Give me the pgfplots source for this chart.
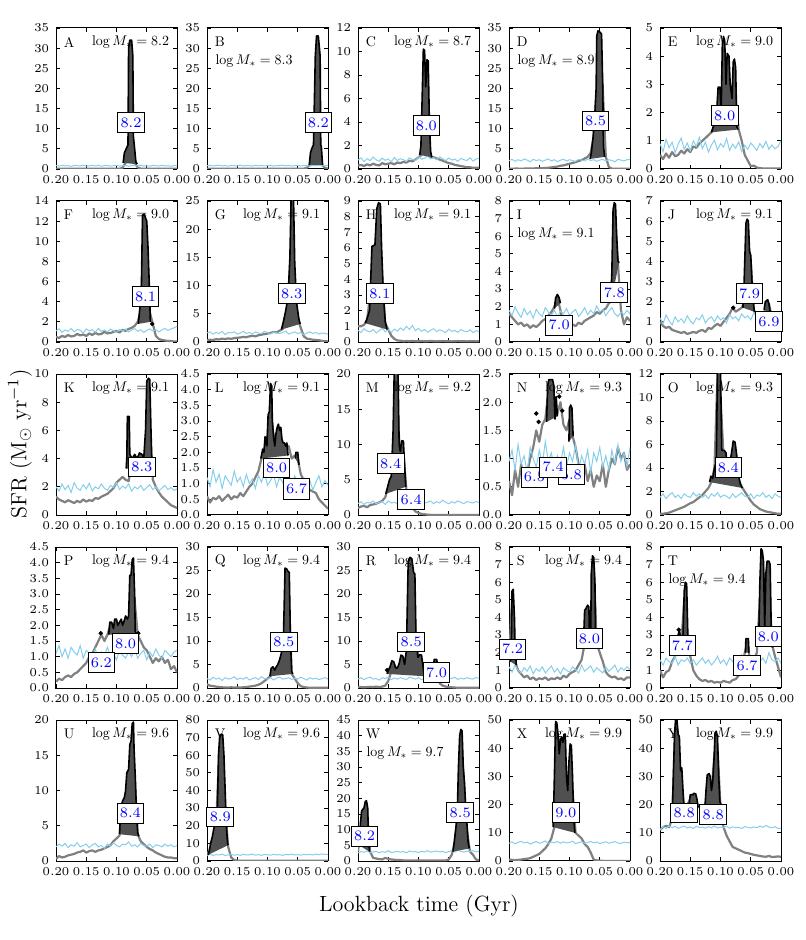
\documentclass[border=0pt]{standalone}
\usepackage{pgfplots}
\pgfplotsset{compat=1.18}
\usepackage{pgfplotstable}
\usepgfplotslibrary{groupplots}
\definecolor{skyb}{RGB}{135,206,235}
\definecolor{grl}{RGB}{128,128,128}
\definecolor{brst}{RGB}{80,80,80}
\pgfplotsset{
 bl/.style={skyb, line width=0.5pt},
 gr/.style={grl, line width=1.1pt, line join=round},
 dots/.style={only marks, mark=*, mark size=0.9pt, black},
 dec/.style={yticklabel style={/pgf/number format/fixed,/pgf/number format/fixed zerofill,/pgf/number format/precision=1}},
}
\tikzset{lab/.style={draw=black, fill=white, text=blue, line width=0.5pt, inner xsep=1.4pt, inner ysep=2.5pt, font=\fontsize{7.2}{8}\selectfont},
 let/.style={font=\fontsize{10}{12}\selectfont, scale=0.7, anchor=west},
 mst/.style={font=\fontsize{10}{12}\selectfont, scale=0.7}}
\newcommand{\burst}[1]{\addplot[fill=brst, draw=none] coordinates {#1};\addplot[black, line width=0.8pt, line join=round] coordinates {#1};}
\newcommand{\base}[1]{\addplot[gr] table[x=x,y=g]{#1};\addplot[bl] table[x=x,y=b]{#1};}
\newcommand{\lab}[3]{\node[lab] at (axis cs:#1,#2) {#3};}
\newcommand{\ttl}[2]{\node[let] at (axis description cs:0.025,0.9) {#1};\node[mst,anchor=east] at (axis description cs:0.975,0.9) {$\log M_* = #2$};}
\newcommand{\ttll}[2]{\node[let] at (axis description cs:0.025,0.9) {#1};\node[mst,anchor=west] at (axis description cs:0.03,0.765) {$\log M_* = #2$};}

\pgfplotstableread{
x b g
0.200 0.85 0.05
0.195 0.72 0.05
0.190 0.92 0.05
0.185 0.77 0.05
0.180 0.82 0.05
0.175 0.66 0.05
0.170 0.89 0.05
0.165 0.83 0.05
0.160 0.74 0.05
0.155 0.94 0.05
0.150 0.70 0.05
0.145 0.80 0.05
0.140 0.88 0.05
0.135 0.75 0.05
0.130 0.91 0.05
0.125 0.68 0.05
0.120 0.83 0.05
0.115 0.86 0.05
0.110 0.71 0.05
0.105 0.82 0.05
0.100 0.92 0.05
0.095 0.73 0.05
0.090 0.79 0.3
0.085 0.89 1.5
0.080 0.67 5
0.075 0.84 5
0.070 0.88 1.5
0.065 0.77 0.4
0.060 0.94 0.1
0.055 0.74 0.05
0.050 0.80 0.05
0.045 0.70 0.05
0.040 0.89 0.05
0.035 0.83 0.05
0.030 0.73 0.05
0.025 0.92 0.05
0.020 0.76 0.05
0.015 0.81 0.05
0.010 0.68 0.05
0.005 0.86 0.05
0.000 0.83 0.05
}\tA
\pgfplotstableread{
x b g
0.200 0.80 0.05
0.195 0.92 0.05
0.190 0.73 0.05
0.185 0.88 0.05
0.180 0.95 0.05
0.175 0.76 0.05
0.170 0.84 0.05
0.165 0.70 0.05
0.160 0.90 0.05
0.155 0.83 0.05
0.150 0.78 0.05
0.145 0.96 0.05
0.140 0.74 0.05
0.135 0.86 0.05
0.130 0.81 0.05
0.125 0.72 0.05
0.120 0.93 0.05
0.115 0.79 0.05
0.110 0.87 0.05
0.105 0.75 0.05
0.100 0.84 0.05
0.095 0.91 0.05
0.090 0.71 0.05
0.085 0.85 0.05
0.080 0.80 0.05
0.075 0.94 0.05
0.070 0.77 0.05
0.065 0.88 0.05
0.060 0.73 0.05
0.055 0.83 0.05
0.050 0.90 0.05
0.045 0.76 0.05
0.040 0.86 0.05
0.035 0.81 0.3
0.030 0.72 1.0
0.025 0.92 5
0.020 0.79 5
0.015 0.95 5
0.010 0.84 1.0
0.005 0.78 0.3
0.000 0.88 0.1
}\tB
\pgfplotstableread{
x b g
0.200 0.75 0.3
0.195 0.95 0.35
0.190 0.62 0.25
0.185 0.88 0.4
0.180 0.70 0.3
0.175 1.02 0.45
0.170 0.78 0.35
0.165 0.66 0.3
0.160 0.92 0.5
0.155 0.74 0.4
0.150 0.85 0.45
0.145 0.60 0.5
0.140 0.98 0.4
0.135 0.72 0.55
0.130 0.87 0.5
0.125 0.79 0.6
0.120 0.64 0.55
0.115 0.95 0.7
0.110 0.81 0.65
0.105 0.73 0.8
0.100 1.05 1.0
0.095 0.84 1.2
0.090 0.92 1.5
0.085 1.10 1.2
0.080 0.86 1.0
0.075 0.97 1.0
0.070 0.78 0.9
0.065 1.02 0.8
0.060 0.88 0.7
0.055 0.70 0.6
0.050 0.93 0.5
0.045 0.76 0.45
0.040 0.85 0.35
0.035 0.65 0.3
0.030 0.90 0.25
0.025 0.79 0.2
0.020 0.72 0.15
0.015 0.95 0.15
0.010 0.68 0.1
0.005 0.84 0.1
0.000 0.90 0.1
}\tC
\pgfplotstableread{
x b g
0.200 2.1 0.1
0.195 2.4 0.05
0.190 1.9 0.1
0.185 2.3 0.1
0.180 2.0 0.05
0.175 2.5 0.1
0.170 2.2 0.15
0.165 1.8 0.1
0.160 2.4 0.1
0.155 2.1 0.2
0.150 2.3 0.15
0.145 1.9 0.2
0.140 2.2 0.25
0.135 2.5 0.3
0.130 2.0 0.4
0.125 2.3 0.5
0.120 1.8 0.6
0.115 2.2 0.8
0.110 2.4 0.9
0.105 2.0 1.1
0.100 2.3 1.3
0.095 2.1 1.5
0.090 1.9 1.7
0.085 2.4 2.0
0.080 2.2 2.2
0.075 2.0 2.6
0.070 2.5 3.0
0.065 2.1 4
0.060 2.3 8
0.055 1.9 20
0.050 2.2 30
0.045 2.4 20
0.040 2.0 3.0
0.035 2.3 0.5
0.030 2.1 0.1
0.025 1.8 0.05
0.020 2.4 0.05
0.015 2.2 0.05
0.010 2.0 0.05
0.005 2.3 0.05
0.000 2.4 0.05
}\tD
\pgfplotstableread{
x b g
0.200 0.90 0.5
0.195 0.62 0.35
0.190 1.05 0.55
0.185 0.75 0.4
0.180 0.95 0.6
0.175 0.58 0.45
0.170 0.88 0.5
0.165 1.10 0.65
0.160 0.70 0.55
0.155 0.92 0.7
0.150 0.65 0.6
0.145 1.00 0.8
0.140 0.80 0.75
0.135 1.12 0.9
0.130 0.72 1.0
0.125 0.95 1.1
0.120 0.60 1.2
0.115 0.85 1.3
0.110 1.02 1.5
0.105 0.68 2.0
0.100 0.90 2.0
0.095 0.78 2.0
0.090 1.08 2.5
0.085 0.66 2.5
0.080 0.88 2.4
0.075 0.74 2.5
0.070 0.96 1.4
0.065 0.62 1.0
0.060 0.84 0.5
0.055 0.70 0.3
0.050 0.92 0.1
0.045 0.80 0.12
0.040 0.66 0.05
0.035 0.90 0.03
0.030 0.75 0.02
0.025 0.98 0.02
0.020 0.70 0.02
0.015 0.85 0.02
0.010 0.72 0.02
0.005 0.80 0.02
0.000 1.00 0.02
}\tE
\pgfplotstableread{
x b g
0.200 1.10 0.5
0.195 1.30 0.4
0.190 0.95 0.6
0.185 1.20 0.5
0.180 1.05 0.7
0.175 1.35 0.55
0.170 1.00 0.6
0.165 1.25 0.8
0.160 1.15 0.65
0.155 0.90 0.75
0.150 1.30 0.6
0.145 1.10 0.85
0.140 1.22 0.7
0.135 0.98 0.9
0.130 1.35 0.75
0.125 1.05 0.8
0.120 1.20 1.0
0.115 1.00 0.85
0.110 1.28 0.9
0.105 1.12 1.0
0.100 0.95 1.1
0.095 1.25 0.95
0.090 1.08 1.2
0.085 1.30 1.1
0.080 1.00 1.3
0.075 1.18 1.4
0.070 1.35 1.6
0.065 1.05 2.0
0.060 1.22 3
0.055 0.95 10
0.050 1.15 10
0.045 1.30 3
0.040 1.10 1.8
0.035 1.25 0.6
0.030 1.00 0.3
0.025 1.20 0.2
0.020 1.35 0.15
0.015 1.15 0.1
0.010 1.30 0.1
0.005 1.40 0.05
0.000 1.55 0.05
}\tF
\pgfplotstableread{
x b g
0.200 1.6 0.3
0.195 1.8 0.4
0.190 1.4 0.35
0.185 1.7 0.5
0.180 1.5 0.45
0.175 1.9 0.6
0.170 1.3 0.5
0.165 1.7 0.65
0.160 1.6 0.55
0.155 1.8 0.7
0.150 1.4 0.75
0.145 1.6 0.8
0.140 1.9 0.9
0.135 1.5 0.85
0.130 1.7 1.0
0.125 1.4 1.1
0.120 1.8 1.0
0.115 1.6 1.2
0.110 1.5 1.3
0.105 1.9 1.4
0.100 1.7 1.5
0.095 1.4 1.6
0.090 1.8 1.8
0.085 1.6 1.7
0.080 1.5 2.0
0.075 1.7 2.3
0.070 1.9 4
0.065 1.4 8
0.060 1.6 20
0.055 1.8 10
0.050 1.5 4
0.045 1.7 2.5
0.040 1.3 1.0
0.035 1.6 0.6
0.030 1.8 0.5
0.025 1.5 0.4
0.020 1.7 0.35
0.015 1.4 0.3
0.010 1.6 0.2
0.005 1.5 0.15
0.000 1.4 0.1
}\tG
\pgfplotstableread{
x b g
0.200 0.75 1.0
0.195 0.60 1.0
0.190 0.85 1.1
0.185 0.70 1.4
0.180 0.65 3
0.175 0.80 5
0.170 0.58 6
0.165 0.72 8
0.160 0.88 4
0.155 0.66 1.2
0.150 0.78 0.8
0.145 0.62 0.4
0.140 0.82 0.2
0.135 0.70 0.1
0.130 0.90 0.08
0.125 0.75 0.05
0.120 1.00 0.06
0.115 0.80 0.05
0.110 1.05 0.07
0.105 0.72 0.05
0.100 0.88 0.05
0.095 0.68 0.06
0.090 0.80 0.05
0.085 0.62 0.05
0.080 0.75 0.07
0.075 0.85 0.05
0.070 0.66 0.04
0.065 0.78 0.05
0.060 0.70 0.06
0.055 0.60 0.05
0.050 0.82 0.05
0.045 0.68 0.04
0.040 0.74 0.05
0.035 0.62 0.06
0.030 0.80 0.05
0.025 0.70 0.05
0.020 0.65 0.04
0.015 0.78 0.05
0.010 0.60 0.05
0.005 0.72 0.04
0.000 0.66 0.05
}\tH
\pgfplotstableread{
x b g
0.200 1.80 1.6
0.195 1.50 1.4
0.190 2.00 1.2
0.185 1.65 1.0
0.180 1.40 1.1
0.175 1.90 0.9
0.170 1.55 1.0
0.165 1.75 0.8
0.160 1.35 0.95
0.155 1.85 0.85
0.150 1.60 1.0
0.145 1.45 1.2
0.140 1.95 1.3
0.135 1.70 1.5
0.130 1.50 1.7
0.125 1.80 2.0
0.120 1.40 2.5
0.115 1.75 1.8
0.110 1.60 1.0
0.105 1.90 0.6
0.100 1.50 0.8
0.095 1.70 1.0
0.090 1.85 0.9
0.085 1.45 1.1
0.080 1.65 1.0
0.075 1.95 1.2
0.070 1.55 1.3
0.065 1.80 1.4
0.060 1.60 1.5
0.055 2.05 1.7
0.050 1.70 1.6
0.045 1.85 1.8
0.040 1.50 1.9
0.035 1.75 2.2
0.030 1.95 3
0.025 1.60 7
0.020 1.45 4.5
0.015 1.70 1.8
0.010 1.55 1.0
0.005 1.80 1.4
0.000 1.60 1.2
}\tI
\pgfplotstableread{
x b g
0.200 1.20 1.0
0.195 0.90 0.8
0.190 1.35 0.7
0.185 1.05 0.75
0.180 0.85 0.6
0.175 1.25 0.55
0.170 1.00 0.5
0.165 1.15 0.45
0.160 0.95 0.5
0.155 1.30 0.4
0.150 1.05 0.45
0.145 0.90 0.5
0.140 1.20 0.45
0.135 1.10 0.55
0.130 1.35 0.6
0.125 0.95 0.5
0.120 1.15 0.7
0.115 1.25 0.65
0.110 1.00 0.8
0.105 1.30 0.9
0.100 1.10 0.8
0.095 1.20 1.0
0.090 0.95 1.2
0.085 1.35 1.4
0.080 1.15 1.7
0.075 1.25 1.5
0.070 1.05 1.6
0.065 1.40 1.7
0.060 1.20 2.0
0.055 1.30 5
0.050 1.10 4.0
0.045 1.45 1.6
0.040 1.25 1.3
0.035 1.15 1.0
0.030 1.35 1.2
0.025 1.20 1.8
0.020 1.40 1.9
0.015 1.25 1.2
0.010 1.10 1.0
0.005 1.30 1.1
0.000 1.20 1.0
}\tJ
\pgfplotstableread{
x b g
0.200 2.0 1.3
0.195 1.7 1.1
0.190 2.2 1.0
0.185 1.8 0.9
0.180 2.1 1.05
0.175 1.6 0.95
0.170 2.3 0.85
0.165 1.9 1.0
0.160 1.75 0.9
0.155 2.15 1.1
0.150 1.85 0.95
0.145 2.25 1.05
0.140 1.7 1.0
0.135 2.0 1.2
0.130 1.85 1.15
0.125 2.2 1.3
0.120 1.9 1.4
0.115 1.75 1.5
0.110 2.1 1.7
0.105 1.95 1.9
0.100 2.3 2.3
0.095 1.8 2.5
0.090 2.05 2.7
0.085 1.9 2.5
0.080 2.2 2.4
0.075 1.7 3.5
0.070 2.0 3.5
0.065 1.85 3.5
0.060 2.1 3.5
0.055 1.75 3.5
0.050 1.95 5
0.045 2.15 6
0.040 1.8 2.5
0.035 2.0 2.0
0.030 1.7 1.6
0.025 1.9 1.3
0.020 2.1 1.1
0.015 1.8 0.9
0.010 1.95 0.7
0.005 1.75 0.6
0.000 1.85 0.5
}\tK
\pgfplotstableread{
x b g
0.200 1.20 0.6
0.195 0.90 0.4
0.190 1.45 0.55
0.185 1.05 0.5
0.180 1.30 0.6
0.175 0.85 0.45
0.170 1.25 0.55
0.165 1.10 0.65
0.160 0.95 0.5
0.155 1.40 0.6
0.150 1.05 0.55
0.145 1.20 0.7
0.140 0.90 0.6
0.135 1.30 0.75
0.130 1.00 0.9
0.125 1.15 1.0
0.120 0.85 1.2
0.115 1.25 1.4
0.110 1.05 1.8
0.105 1.35 2.0
0.100 0.95 2.5
0.095 1.10 3.5
0.090 1.30 2.5
0.085 0.90 2.6
0.080 1.20 2.5
0.075 1.05 2.2
0.070 0.80 2.1
0.065 1.15 2.2
0.060 0.95 1.8
0.055 1.25 1.9
0.050 1.00 1.8
0.045 0.85 1.3
0.040 1.20 1.1
0.035 0.95 0.9
0.030 1.10 0.8
0.025 0.80 0.75
0.020 1.05 0.7
0.015 1.25 0.5
0.010 0.90 0.4
0.005 1.10 0.3
0.000 0.95 0.2
}\tL
\pgfplotstableread{
x b g
0.200 1.6 1.0
0.195 1.9 1.2
0.190 1.5 1.3
0.185 1.8 1.1
0.180 1.7 1.4
0.175 2.0 1.5
0.170 1.6 1.6
0.165 1.8 1.8
0.160 1.9 2.0
0.155 1.5 2.5
0.150 2.0 4
0.145 1.7 5
0.140 1.8 10
0.135 1.6 15
0.130 1.9 8
0.125 1.7 9
0.120 2.1 3.5
0.115 1.6 2
0.110 1.8 1.0
0.105 1.9 0.5
0.100 1.6 0.3
0.095 2.0 0.15
0.090 1.7 0.1
0.085 1.8 0.05
0.080 2.0 0.02
0.075 1.6 0.02
0.070 1.9 0.02
0.065 1.7 0.02
0.060 2.1 0.02
0.055 1.8 0.02
0.050 1.6 0.02
0.045 1.9 0.02
0.040 1.7 0.02
0.035 2.0 0.02
0.030 1.8 0.02
0.025 1.6 0.02
0.020 1.9 0.02
0.015 1.8 0.02
0.010 1.7 0.02
0.005 1.9 0.02
0.000 1.8 0.02
}\tM
\pgfplotstableread{
x b g
0.200 0.95 0.6
0.195 1.15 0.35
0.190 0.80 0.8
0.185 1.25 0.5
0.180 0.90 0.9
0.175 1.05 0.6
0.170 0.75 0.75
0.165 1.20 1.0
0.160 1.00 1.2
0.155 0.85 1.5
0.150 1.15 1.3
0.145 0.90 1.6
0.140 1.30 1.7
0.135 0.95 2.2
0.130 1.10 2.3
0.125 0.80 1.9
0.120 1.05 1.8
0.115 0.90 2.0
0.110 1.20 1.6
0.105 0.85 1.5
0.100 1.10 1.7
0.095 0.95 1.4
0.090 1.25 1.2
0.085 0.80 0.9
0.080 1.05 0.7
0.075 0.90 0.9
0.070 1.15 0.6
0.065 0.75 0.8
0.060 1.10 0.5
0.055 0.95 0.7
0.050 1.20 0.6
0.045 0.85 0.9
0.040 1.05 0.5
0.035 0.80 0.8
0.030 1.15 1.0
0.025 0.90 0.9
0.020 1.25 1.2
0.015 0.95 1.0
0.010 1.10 1.1
0.005 0.85 0.8
0.000 1.20 0.9
}\tN
\pgfplotstableread{
x b g
0.200 1.5 0.1
0.195 1.8 0.1
0.190 1.4 0.15
0.185 1.7 0.2
0.180 1.9 0.3
0.175 1.5 0.4
0.170 1.7 0.5
0.165 1.4 0.6
0.160 1.8 0.7
0.155 1.6 0.85
0.150 1.5 1.0
0.145 1.9 1.1
0.140 1.6 1.3
0.135 1.8 1.5
0.130 1.5 1.7
0.125 1.7 2.0
0.120 1.4 2.3
0.115 1.8 2.8
0.110 1.6 4
0.105 1.9 12
0.100 1.5 10
0.095 1.7 5
0.090 1.6 4
0.085 1.4 4
0.080 1.8 5
0.075 1.5 5
0.070 1.7 3
0.065 1.9 2.4
0.060 1.6 2.0
0.055 1.5 1.6
0.050 1.8 1.2
0.045 1.4 0.9
0.040 1.7 0.7
0.035 1.6 0.5
0.030 1.9 0.4
0.025 1.5 0.3
0.020 1.7 0.25
0.015 1.4 0.2
0.010 1.8 0.15
0.005 1.6 0.1
0.000 1.5 0.1
}\tO
\pgfplotstableread{
x b g
0.200 1.10 0.2
0.195 1.35 0.3
0.190 1.00 0.25
0.185 1.25 0.35
0.180 0.95 0.4
0.175 1.30 0.35
0.170 1.15 0.45
0.165 1.05 0.5
0.160 1.35 0.6
0.155 0.95 0.7
0.150 1.20 0.8
0.145 1.10 1.0
0.140 1.00 1.1
0.135 1.25 1.3
0.130 0.90 1.5
0.125 1.15 1.7
0.120 1.05 1.5
0.115 1.30 1.7
0.110 1.00 2.0
0.105 1.10 1.8
0.100 0.90 2.1
0.095 1.20 2.0
0.090 1.05 1.9
0.085 0.95 2.2
0.080 1.15 2.1
0.075 1.00 3.5
0.070 1.25 2.8
0.065 0.95 1.7
0.060 1.10 1.5
0.055 1.20 1.3
0.050 0.90 1.2
0.045 1.15 1.0
0.040 1.00 0.8
0.035 1.25 0.95
0.030 1.05 0.85
0.025 0.95 1.0
0.020 1.20 0.8
0.015 1.10 0.9
0.010 1.00 0.6
0.005 1.15 0.7
0.000 1.20 0.5
}\tP
\pgfplotstableread{
x b g
0.200 2.0 0.8
0.195 1.7 0.5
0.190 2.3 0.4
0.185 1.9 0.3
0.180 2.1 0.2
0.175 1.6 0.15
0.170 2.2 0.1
0.165 1.9 0.1
0.160 2.0 0.15
0.155 2.4 0.1
0.150 1.8 0.1
0.145 2.1 0.1
0.140 1.9 0.15
0.135 2.3 0.2
0.130 1.7 0.3
0.125 2.0 0.4
0.120 2.2 0.5
0.115 1.8 0.7
0.110 2.4 1.0
0.105 2.0 1.5
0.100 1.9 2.0
0.095 2.2 2.5
0.090 1.7 3.5
0.085 2.1 4.0
0.080 2.3 5
0.075 1.9 6
0.070 2.0 8
0.065 2.2 20
0.060 1.8 3
0.055 2.1 2.0
0.050 1.9 1.0
0.045 2.3 0.4
0.040 2.0 0.2
0.035 1.7 0.1
0.030 2.2 0.05
0.025 1.9 0.05
0.020 2.1 0.05
0.015 1.8 0.05
0.010 2.0 0.05
0.005 2.2 0.05
0.000 1.9 0.05
}\tQ
\pgfplotstableread{
x b g
0.200 1.9 0.2
0.195 2.2 0.2
0.190 1.8 0.15
0.185 2.1 0.2
0.180 2.3 0.25
0.175 1.9 0.2
0.170 2.0 0.3
0.165 1.7 0.2
0.160 2.2 0.3
0.155 2.0 0.5
0.150 2.3 1.5
0.145 1.8 3.5
0.140 2.1 5
0.135 1.9 3.8
0.130 2.2 4.2
0.125 2.0 5
0.120 1.8 7
0.115 2.3 8
0.110 2.1 22
0.105 1.9 12
0.100 2.2 6
0.095 1.8 6
0.090 2.0 2.5
0.085 2.1 2
0.080 1.9 1.5
0.075 2.3 4.5
0.070 2.0 5.5
0.065 1.8 1.0
0.060 2.2 0.5
0.055 1.9 0.3
0.050 2.1 0.2
0.045 2.0 0.15
0.040 2.3 0.1
0.035 1.8 0.05
0.030 2.1 0.05
0.025 1.9 0.05
0.020 2.2 0.05
0.015 2.0 0.05
0.010 1.9 0.05
0.005 2.2 0.05
0.000 2.1 0.05
}\tR
\pgfplotstableread{
x b g
0.200 1.20 1.5
0.195 0.90 5
0.190 1.30 1.5
0.185 1.00 1.0
0.180 0.85 0.8
0.175 1.15 0.6
0.170 0.95 0.7
0.165 1.25 0.5
0.160 0.80 0.6
0.155 1.10 0.45
0.150 0.95 0.55
0.145 1.20 0.5
0.140 0.85 0.6
0.135 1.05 0.45
0.130 1.25 0.55
0.125 0.90 0.5
0.120 1.10 0.6
0.115 0.80 0.5
0.110 1.15 0.7
0.105 1.00 0.6
0.100 0.90 0.8
0.095 1.20 0.9
0.090 1.05 1.0
0.085 0.85 1.3
0.080 1.30 1.6
0.075 0.95 2.5
0.070 1.10 4.5
0.065 1.25 2.6
0.060 0.90 7
0.055 1.15 2.5
0.050 1.00 2.0
0.045 0.85 1.5
0.040 1.20 0.9
0.035 0.95 0.7
0.030 1.10 0.6
0.025 1.30 0.65
0.020 0.90 0.5
0.015 1.15 0.55
0.010 1.00 0.45
0.005 1.20 0.6
0.000 1.05 0.6
}\tS
\pgfplotstableread{
x b g
0.200 1.6 1.0
0.195 1.3 0.6
0.190 1.7 0.9
0.185 1.5 1.0
0.180 1.4 1.5
0.175 1.8 1.8
0.170 1.3 3.0
0.165 1.6 2.4
0.160 1.5 5
0.155 1.7 3.0
0.150 1.4 1.8
0.145 1.6 1.0
0.140 1.3 0.7
0.135 1.5 0.5
0.130 1.7 0.4
0.125 1.4 0.45
0.120 1.6 0.35
0.115 1.3 0.4
0.110 1.5 0.3
0.105 1.8 0.35
0.100 1.4 0.3
0.095 1.6 0.4
0.090 1.3 0.35
0.085 1.7 0.3
0.080 1.5 0.45
0.075 1.4 0.5
0.070 1.6 0.7
0.065 1.9 0.9
0.060 1.5 2.0
0.055 1.7 2.5
0.050 1.4 1.2
0.045 1.6 1.6
0.040 1.8 2.0
0.035 1.5 5
0.030 1.7 7
0.025 1.4 5
0.020 2.0 6.5
0.015 1.6 2.5
0.010 1.5 1.8
0.005 1.7 1.2
0.000 1.4 0.6
}\tT
\pgfplotstableread{
x b g
0.200 2.0 0.3
0.195 2.4 0.7
0.190 2.1 0.5
0.185 2.5 0.6
0.180 1.9 0.8
0.175 2.3 0.9
0.170 2.1 1.0
0.165 2.6 1.2
0.160 2.0 1.3
0.155 2.2 1.5
0.150 2.4 1.2
0.145 1.9 1.4
0.140 2.3 1.5
0.135 2.5 1.3
0.130 2.0 1.5
0.125 2.2 1.6
0.120 1.8 1.8
0.115 2.4 2.0
0.110 2.1 2.2
0.105 2.6 2.8
0.100 2.2 3.2
0.095 2.0 3.6
0.090 2.4 8
0.085 2.3 9
0.080 2.7 12
0.075 2.1 15
0.070 2.3 12
0.065 2.0 3.8
0.060 2.5 2.8
0.055 2.2 2.4
0.050 2.1 2.0
0.045 2.4 1.7
0.040 1.9 1.5
0.035 2.3 1.2
0.030 2.2 1.0
0.025 2.0 0.8
0.020 2.4 0.6
0.015 2.1 0.5
0.010 2.3 0.5
0.005 2.0 0.4
0.000 2.2 0.4
}\tU
\pgfplotstableread{
x b g
0.200 3.3 3
0.195 3.8 7
0.190 3.2 14
0.185 3.6 20
0.180 3.4 60
0.175 3.9 70
0.170 3.1 30
0.165 3.5 8
0.160 3.7 2
0.155 3.3 0.5
0.150 3.6 0.2
0.145 3.2 0.1
0.140 3.8 0.1
0.135 3.4 0.1
0.130 3.5 0.1
0.125 3.9 0.1
0.120 3.3 0.1
0.115 3.6 0.1
0.110 3.2 0.1
0.105 3.7 0.1
0.100 3.5 0.1
0.095 3.3 0.1
0.090 3.8 0.1
0.085 3.4 0.1
0.080 3.6 0.1
0.075 3.2 0.1
0.070 3.7 0.1
0.065 3.5 0.1
0.060 3.9 0.1
0.055 3.4 0.1
0.050 3.6 0.1
0.045 3.3 0.1
0.040 3.8 0.1
0.035 3.5 0.1
0.030 3.7 0.1
0.025 3.4 0.1
0.020 3.9 0.1
0.015 3.6 0.1
0.010 4.0 0.1
0.005 3.7 0.1
0.000 3.8 0.1
}\tV
\pgfplotstableread{
x b g
0.200 2.6 3
0.195 3.0 12
0.190 2.8 15
0.185 3.2 16
0.180 2.7 3
0.175 2.9 1.0
0.170 3.1 0.8
0.165 2.6 0.6
0.160 3.0 0.5
0.155 2.8 1.0
0.150 3.3 0.7
0.145 2.7 0.5
0.140 2.9 0.4
0.135 3.1 0.3
0.130 2.8 0.3
0.125 3.0 0.2
0.120 2.6 0.2
0.115 3.2 0.2
0.110 2.9 0.2
0.105 3.0 0.2
0.100 2.7 0.2
0.095 3.1 0.2
0.090 2.9 0.2
0.085 3.3 0.2
0.080 2.8 0.2
0.075 3.0 0.2
0.070 3.2 0.2
0.065 2.9 0.2
0.060 3.1 0.2
0.055 2.7 0.2
0.050 3.0 0.5
0.045 3.3 2
0.040 2.9 6
0.035 3.4 15
0.030 3.1 40
0.025 2.8 25
0.020 3.2 10
0.015 3.0 3
0.010 3.3 2
0.005 2.9 0.5
0.000 3.1 0.2
}\tW
\pgfplotstableread{
x b g
0.200 6.3 0.5
0.195 6.8 0.4
0.190 6.1 0.3
0.185 6.6 0.4
0.180 7.0 0.5
0.175 6.4 0.7
0.170 6.7 0.8
0.165 6.0 1.0
0.160 6.5 1.5
0.155 6.9 2.0
0.150 6.3 2.5
0.145 6.6 3.5
0.140 7.1 4.5
0.135 6.2 6
0.130 6.7 8
0.125 6.5 12
0.120 6.9 45
0.115 6.3 40
0.110 6.8 40
0.105 6.4 25
0.100 6.6 33
0.095 7.0 25
0.090 6.2 10
0.085 6.5 9
0.080 6.8 8
0.075 6.3 6
0.070 6.6 5
0.065 6.9 3
0.060 6.4 0.5
0.055 6.7 0.2
0.050 6.2 0.1
0.045 6.5 0.05
0.040 6.8 0.05
0.035 6.3 0.05
0.030 6.6 0.05
0.025 6.9 0.05
0.020 6.4 0.05
0.015 6.2 0.05
0.010 6.7 0.05
0.005 6.5 0.05
0.000 6.6 0.05
}\tX
\pgfplotstableread{
x b g
0.200 11.0 11
0.195 12.2 12
0.190 11.5 12.5
0.185 12.5 12
0.180 11.8 15
0.175 12.3 45
0.170 11.6 42
0.165 12.0 28
0.160 12.4 18
0.155 11.7 20
0.150 12.1 22
0.145 11.5 22
0.140 12.3 21
0.135 11.9 19
0.130 12.0 18
0.125 11.6 20
0.120 12.2 28
0.115 11.8 24
0.110 12.4 38
0.105 11.7 40
0.100 12.0 19
0.095 11.9 12
0.090 12.3 9
0.085 11.6 7
0.080 12.1 5
0.075 11.8 4.5
0.070 12.0 4
0.065 11.5 3.5
0.060 12.2 3
0.055 11.9 2.8
0.050 11.7 2.5
0.045 12.1 2.2
0.040 11.8 2.0
0.035 12.4 1.8
0.030 11.9 1.6
0.025 12.6 1.5
0.020 12.0 1.8
0.015 11.8 1.4
0.010 12.2 1.5
0.005 11.5 1.6
0.000 11.7 1.5
}\tY

\begin{document}
\begin{tikzpicture}
\begin{groupplot}[group style={group size=5 by 5, horizontal sep=15pt, vertical sep=16pt},
 width=60.5pt, height=70.5pt, scale only axis,
 xmin=0, xmax=0.2, x dir=reverse, xtick={0,0.05,0.1,0.15,0.2}, ymin=0,
 scaled ticks=false, tick align=inside, major tick length=2pt, minor tick num=0,
 tick style={black, line width=0.4pt},
 axis line style={line width=0.5pt},
 tick label style={font=\fontsize{5.8}{6}\selectfont},
 xticklabel style={/pgf/number format/fixed,/pgf/number format/fixed zerofill,/pgf/number format/precision=2},
 clip mode=individual]
% A
\nextgroupplot[ymax=35, ytick distance=5]
\coordinate (tl) at (axis description cs:0,1);
\base{\tA}
\burst{(0.089,1.5)(0.087,4)(0.084,5)(0.081,6)(0.080,30)(0.078,32)(0.075,32)(0.073,28)(0.072,8)(0.070,5)(0.068,1.8)(0.066,1.2)}
\lab{0.076}{11.5}{8.2}
\ttl{A}{8.2}
% B
\nextgroupplot[ymax=35, ytick distance=5]
\base{\tB}
\burst{(0.031,1)(0.029,4)(0.027,5)(0.024,6)(0.021,28)(0.019,33)(0.016,33)(0.013,28)(0.012,6)(0.011,5.5)(0.009,1)}
\lab{0.016}{11.5}{8.2}
\ttll{B}{8.3}
% C
\nextgroupplot[ymax=12, ytick distance=2]
\base{\tC}
\burst{(0.098,1.2)(0.096,2)(0.094,6)(0.092,10.2)(0.090,10.1)(0.088,7)(0.086,9.3)(0.084,9.2)(0.082,4)(0.080,1.5)(0.078,1.0)}
\lab{0.087}{3.7}{8.0}
\ttl{C}{8.7}
% D
\nextgroupplot[ymax=35, ytick distance=5]
\base{\tD}
\burst{(0.066,2.5)(0.064,4)(0.061,8)(0.058,14)(0.056,20)(0.055,33)(0.053,34.3)(0.050,34)(0.047,33.5)(0.045,20)(0.044,6)(0.042,3)}
\lab{0.057}{11.9}{8.5}
\ttll{D}{8.9}
% E
\nextgroupplot[ymax=5, ytick distance=1]
\base{\tE}
\burst{(0.115,1.3)(0.112,1.5)(0.107,1.8)(0.104,2.9)(0.101,2.9)(0.099,2.0)(0.097,4.4)(0.095,4.7)(0.093,4.5)(0.091,3.0)(0.089,4.1)(0.086,4.0)(0.084,3.0)(0.081,2.5)(0.079,3.8)(0.077,3.9)(0.075,3.6)(0.073,1.5)(0.071,1.4)}
\lab{0.093}{1.9}{8.0}
\ttl{E}{9.0}
% F
\nextgroupplot[ymax=14, ytick distance=2]
\base{\tF}
\burst{(0.064,1.8)(0.062,3.0)(0.059,5)(0.057,12.6)(0.054,12.7)(0.052,12.3)(0.050,12.0)(0.048,9.5)(0.046,6)(0.044,2.0)}
\addplot[dots] coordinates {(0.041,1.8)};
\lab{0.052}{4.5}{8.1}
\ttl{F}{9.0}
% G
\nextgroupplot[ymax=25, ytick distance=5]
\base{\tG}
\burst{(0.077,2.2)(0.074,3.5)(0.070,5.5)(0.066,8)(0.063,15)(0.061,25.5)(0.057,25.5)(0.055,14)(0.052,7)(0.048,4)(0.046,3.2)}
\lab{0.060}{8.6}{8.3}
\ttl{G}{9.1}
% H
\nextgroupplot[ymax=9, ytick distance=1]
\base{\tH}
\burst{(0.188,1.2)(0.185,1.5)(0.181,2.0)(0.179,4)(0.177,6.1)(0.172,6.2)(0.169,8.5)(0.166,8.9)(0.163,8.8)(0.161,6)(0.158,3)(0.155,1.3)(0.152,0.8)}
\lab{0.164}{3.1}{8.1}
\ttl{H}{9.1}
% I
\nextgroupplot[ymax=8, ytick distance=1]
\base{\tI}
\burst{(0.125,1.9)(0.123,2.5)(0.120,2.7)(0.117,2.5)(0.115,2.2)}
\burst{(0.032,2.2)(0.030,4)(0.028,7.5)(0.026,7.9)(0.024,7.8)(0.022,6)(0.020,4.6)(0.018,4.5)}
\lab{0.117}{0.95}{7.0}
\lab{0.026}{2.8}{7.8}
\ttll{I}{9.1}
% J
\nextgroupplot[ymax=7, ytick distance=1]
\base{\tJ}
\burst{(0.063,1.7)(0.061,3)(0.058,5.9)(0.056,6.1)(0.054,6.0)(0.052,4.5)(0.050,4.3)(0.048,3)(0.046,2.0)(0.044,1.5)}
\burst{(0.028,1.6)(0.026,2.0)(0.022,2.1)(0.020,1.9)(0.018,1.5)(0.016,1.4)}
\addplot[dots] coordinates {(0.079,1.7)};
\lab{0.052}{2.4}{7.9}
\lab{0.020}{1.0}{6.9}
\ttl{J}{9.1}
% K
\nextgroupplot[ymax=10, ytick distance=2]
\base{\tK}
\burst{(0.084,3.3)(0.083,4)(0.082,7.0)(0.079,7.0)(0.078,4.3)(0.074,4.0)(0.070,4.3)(0.066,4.0)(0.062,4.4)(0.058,4.3)(0.055,4.0)(0.052,6)(0.050,9.5)(0.047,9.7)(0.045,9.6)(0.043,6)(0.041,3.0)}
\lab{0.058}{3.4}{8.3}
\ttl{K}{9.1}
% L
\nextgroupplot[ymax=4.5, ytick distance=0.5, dec]
\base{\tL}
\burst{(0.111,1.8)(0.108,2.1)(0.106,2.0)(0.104,2.5)(0.101,2.2)(0.099,3.2)(0.097,3.3)(0.095,4.2)(0.093,4.1)(0.092,3.0)(0.090,2.5)(0.088,2.2)(0.086,2.6)(0.084,2.8)(0.082,2.9)(0.080,2.7)(0.078,2.8)(0.076,2.4)(0.074,2.3)(0.072,2.3)(0.070,2.2)(0.068,2.3)(0.066,1.9)}
\burst{(0.054,1.8)(0.053,2.0)(0.050,2.0)(0.048,1.6)}
\lab{0.085}{1.5}{8.0}
\lab{0.052}{0.83}{6.7}
\ttl{L}{9.1}
% M
\nextgroupplot[ymax=20, ytick distance=5]
\base{\tM}
\burst{(0.154,3.0)(0.151,4.0)(0.148,5.0)(0.145,5.5)(0.142,12)(0.140,21)(0.134,21)(0.132,10)(0.130,9)(0.128,10.5)(0.125,10.5)(0.123,7)(0.121,4.0)}
\lab{0.146}{7.3}{8.4}
\lab{0.112}{2.2}{6.4}
\ttl{M}{9.2}
% N
\nextgroupplot[ymax=2.5, ytick distance=0.5, dec]
\base{\tN}
\burst{(0.138,1.65)(0.136,2.3)(0.134,2.4)(0.128,2.4)(0.126,2.3)(0.124,1.7)(0.122,2.1)(0.120,1.75)}
\burst{(0.101,1.3)(0.100,1.9)(0.098,1.95)(0.096,1.9)(0.094,1.4)}
\addplot[dots] coordinates {(0.155,1.8)(0.151,1.65)(0.117,2.1)(0.112,1.85)};
\lab{0.158}{0.67}{6.5}
\lab{0.097}{0.72}{5.8}
\lab{0.127}{0.85}{7.4}
\ttl{N}{9.3}
% O
\nextgroupplot[ymax=12, ytick distance=2]
\base{\tO}
\burst{(0.118,2.8)(0.116,3.3)(0.113,3.1)(0.110,4)(0.107,4.5)(0.105,12.5)(0.100,12.5)(0.098,5.5)(0.094,5.5)(0.091,5.3)(0.088,3.6)(0.085,4.4)(0.082,5.2)(0.079,6.3)(0.076,6.2)(0.073,5.0)(0.070,3.3)(0.067,2.6)(0.064,2.3)}
\lab{0.087}{4.0}{8.4}
\ttl{O}{9.3}
% P
\nextgroupplot[ymax=4.5, ytick distance=0.5, dec]
\base{\tP}
\burst{(0.113,1.7)(0.111,2.1)(0.108,2.1)(0.105,1.9)(0.103,2.2)(0.100,2.2)(0.098,2.0)(0.095,2.1)(0.092,2.2)(0.090,2.0)(0.088,2.1)(0.085,2.3)(0.082,2.2)(0.080,2.3)(0.078,3.6)(0.076,3.6)(0.074,4.1)(0.072,4.15)(0.070,3.0)(0.069,1.8)(0.066,1.7)}
\addplot[dots] coordinates {(0.126,1.75)(0.064,1.75)};
\lab{0.085}{1.41}{8.0}
\lab{0.125}{0.81}{6.2}
\ttl{P}{9.4}
% Q
\nextgroupplot[ymax=30, ytick distance=5]
\base{\tQ}
\burst{(0.096,2.5)(0.094,4.2)(0.091,4.5)(0.088,3.8)(0.086,4.4)(0.083,5.0)(0.080,6.0)(0.077,7.5)(0.074,9)(0.071,25.5)(0.068,25.3)(0.066,24.8)(0.064,24.6)(0.062,10)(0.060,3.5)(0.058,3.0)}
\lab{0.073}{9.8}{8.5}
\ttl{Q}{9.4}
% R
\nextgroupplot[ymax=30, ytick distance=5]
\base{\tR}
\burst{(0.152,3.0)(0.150,3.8)(0.147,4.5)(0.144,5.8)(0.141,5.6)(0.138,4.3)(0.135,4.2)(0.132,5.2)(0.129,7.0)(0.126,6.8)(0.123,5.0)(0.120,8)(0.117,27)(0.114,27.8)(0.111,27.5)(0.108,24.5)(0.106,24.3)(0.104,10)(0.101,6.5)(0.098,7.1)(0.095,7.0)(0.093,5)(0.091,3.0)(0.089,2.5)}
\burst{(0.076,4)(0.074,6.1)(0.070,6.1)(0.068,4.5)}
\addplot[dots] coordinates {(0.152,3.8)};
\lab{0.112}{9.8}{8.5}
\lab{0.070}{3.3}{7.0}
\ttl{R}{9.4}
% S
\nextgroupplot[ymax=8, ytick distance=1]
\base{\tS}
\burst{(0.198,1.5)(0.196,3)(0.195,5.5)(0.193,5.6)(0.191,4)(0.190,2.5)(0.188,1.3)}
\burst{(0.077,2.5)(0.075,4.4)(0.073,4.5)(0.070,4.7)(0.068,4.6)(0.067,3.0)(0.065,2.8)(0.064,6.5)(0.062,7.5)(0.060,7.4)(0.058,6)(0.057,3.0)(0.055,2.5)}
\lab{0.194}{2.2}{7.2}
\lab{0.067}{2.8}{8.0}
\ttl{S}{9.4}
% T
\nextgroupplot[ymax=8, ytick distance=1]
\base{\tT}
\burst{(0.170,3.0)(0.168,3.3)(0.165,2.6)(0.162,3)(0.160,5.5)(0.158,6.0)(0.156,5.9)(0.154,3)(0.152,2.0)}
\burst{(0.059,2.0)(0.058,2.8)(0.054,2.8)(0.053,2.0)}
\burst{(0.037,2.5)(0.035,6)(0.033,7.9)(0.031,7.8)(0.029,7.2)(0.027,3.5)(0.025,6.5)(0.023,7.2)(0.020,7.2)(0.018,7.0)(0.016,3)(0.014,2.3)}
\addplot[dots] coordinates {(0.169,3.3)};
\lab{0.163}{2.4}{7.7}
\lab{0.056}{1.25}{6.7}
\lab{0.021}{2.9}{8.0}
\ttll{T}{9.4}
% U
\nextgroupplot[ymax=20, ytick distance=5]
\base{\tU}
\burst{(0.095,3.8)(0.093,7.5)(0.090,8.5)(0.087,9)(0.085,10)(0.083,12.5)(0.080,13)(0.078,16.5)(0.076,17)(0.074,19.5)(0.072,19.7)(0.071,16)(0.069,12)(0.067,7)(0.065,4)(0.063,3.5)}
\lab{0.077}{6.8}{8.4}
\ttl{U}{9.6}
% V
\nextgroupplot[ymax=80, ytick distance=10]
\base{\tV}
\burst{(0.198,3.5)(0.196,6)(0.194,10)(0.191,14)(0.189,18)(0.186,22)(0.183,27)(0.181,60)(0.179,71)(0.176,72)(0.174,71.5)(0.172,60)(0.170,40)(0.168,20)(0.166,10)(0.165,9)}
\lab{0.178}{25}{8.9}
\ttl{V}{9.6}
% W
\nextgroupplot[ymax=45, ytick distance=5]
\base{\tW}
\burst{(0.198,5)(0.196,12)(0.194,16)(0.192,16.5)(0.190,17)(0.188,19)(0.186,19.2)(0.184,17)(0.183,10)(0.181,3)}
\burst{(0.043,3)(0.041,6)(0.038,11)(0.036,15)(0.034,30)(0.032,40)(0.030,42)(0.028,41.5)(0.026,30)(0.024,25)(0.022,17)(0.020,12)(0.018,6)(0.016,4)}
\lab{0.189}{7.9}{8.2}
\lab{0.031}{15.5}{8.5}
\ttll{W}{9.7}
% X
\nextgroupplot[ymax=50, ytick distance=10]
\base{\tX}
\burst{(0.127,12)(0.125,30)(0.123,49.5)(0.121,49)(0.119,45)(0.117,38)(0.115,43)(0.113,44)(0.111,42)(0.109,45)(0.107,45)(0.105,30)(0.103,25)(0.101,35)(0.099,41.5)(0.097,41)(0.095,30)(0.093,15)(0.091,10)}
\lab{0.106}{17.2}{9.0}
\ttl{X}{9.9}
% Y
\nextgroupplot[ymax=50, ytick distance=10]
\base{\tY}
\burst{(0.180,15)(0.178,30)(0.176,45)(0.174,51)(0.172,50)(0.170,45)(0.168,44)(0.166,32)(0.164,33)(0.162,25)(0.160,18)(0.158,17)}
\burst{(0.152,20)(0.150,23.5)(0.146,23.5)(0.144,24)(0.141,23.8)(0.139,22)(0.137,19)}
\burst{(0.126,18)(0.124,25)(0.122,30.5)(0.119,31)(0.117,30)(0.115,25)(0.113,28)(0.111,35)(0.109,45.5)(0.107,46)(0.105,44)(0.103,30)(0.101,21)(0.099,20)}
\lab{0.160}{17}{8.8}
\lab{0.112}{16.4}{8.8}
\ttl{Y}{9.9}
\end{groupplot}
\node[font=\fontsize{11}{12}\selectfont] at ([shift={(181.5pt,-439pt)}]tl) {Lookback time (Gyr)};
\node[rotate=90, font=\fontsize{11}{12}\selectfont] at ([shift={(-18pt,-208pt)}]tl) {SFR (M$_\odot$ yr$^{-1}$)};
\pgfresetboundingbox
\path ([shift={(-28pt,14pt)}]tl) rectangle ([shift={(375pt,-456pt)}]tl);
\end{tikzpicture}
\end{document}
